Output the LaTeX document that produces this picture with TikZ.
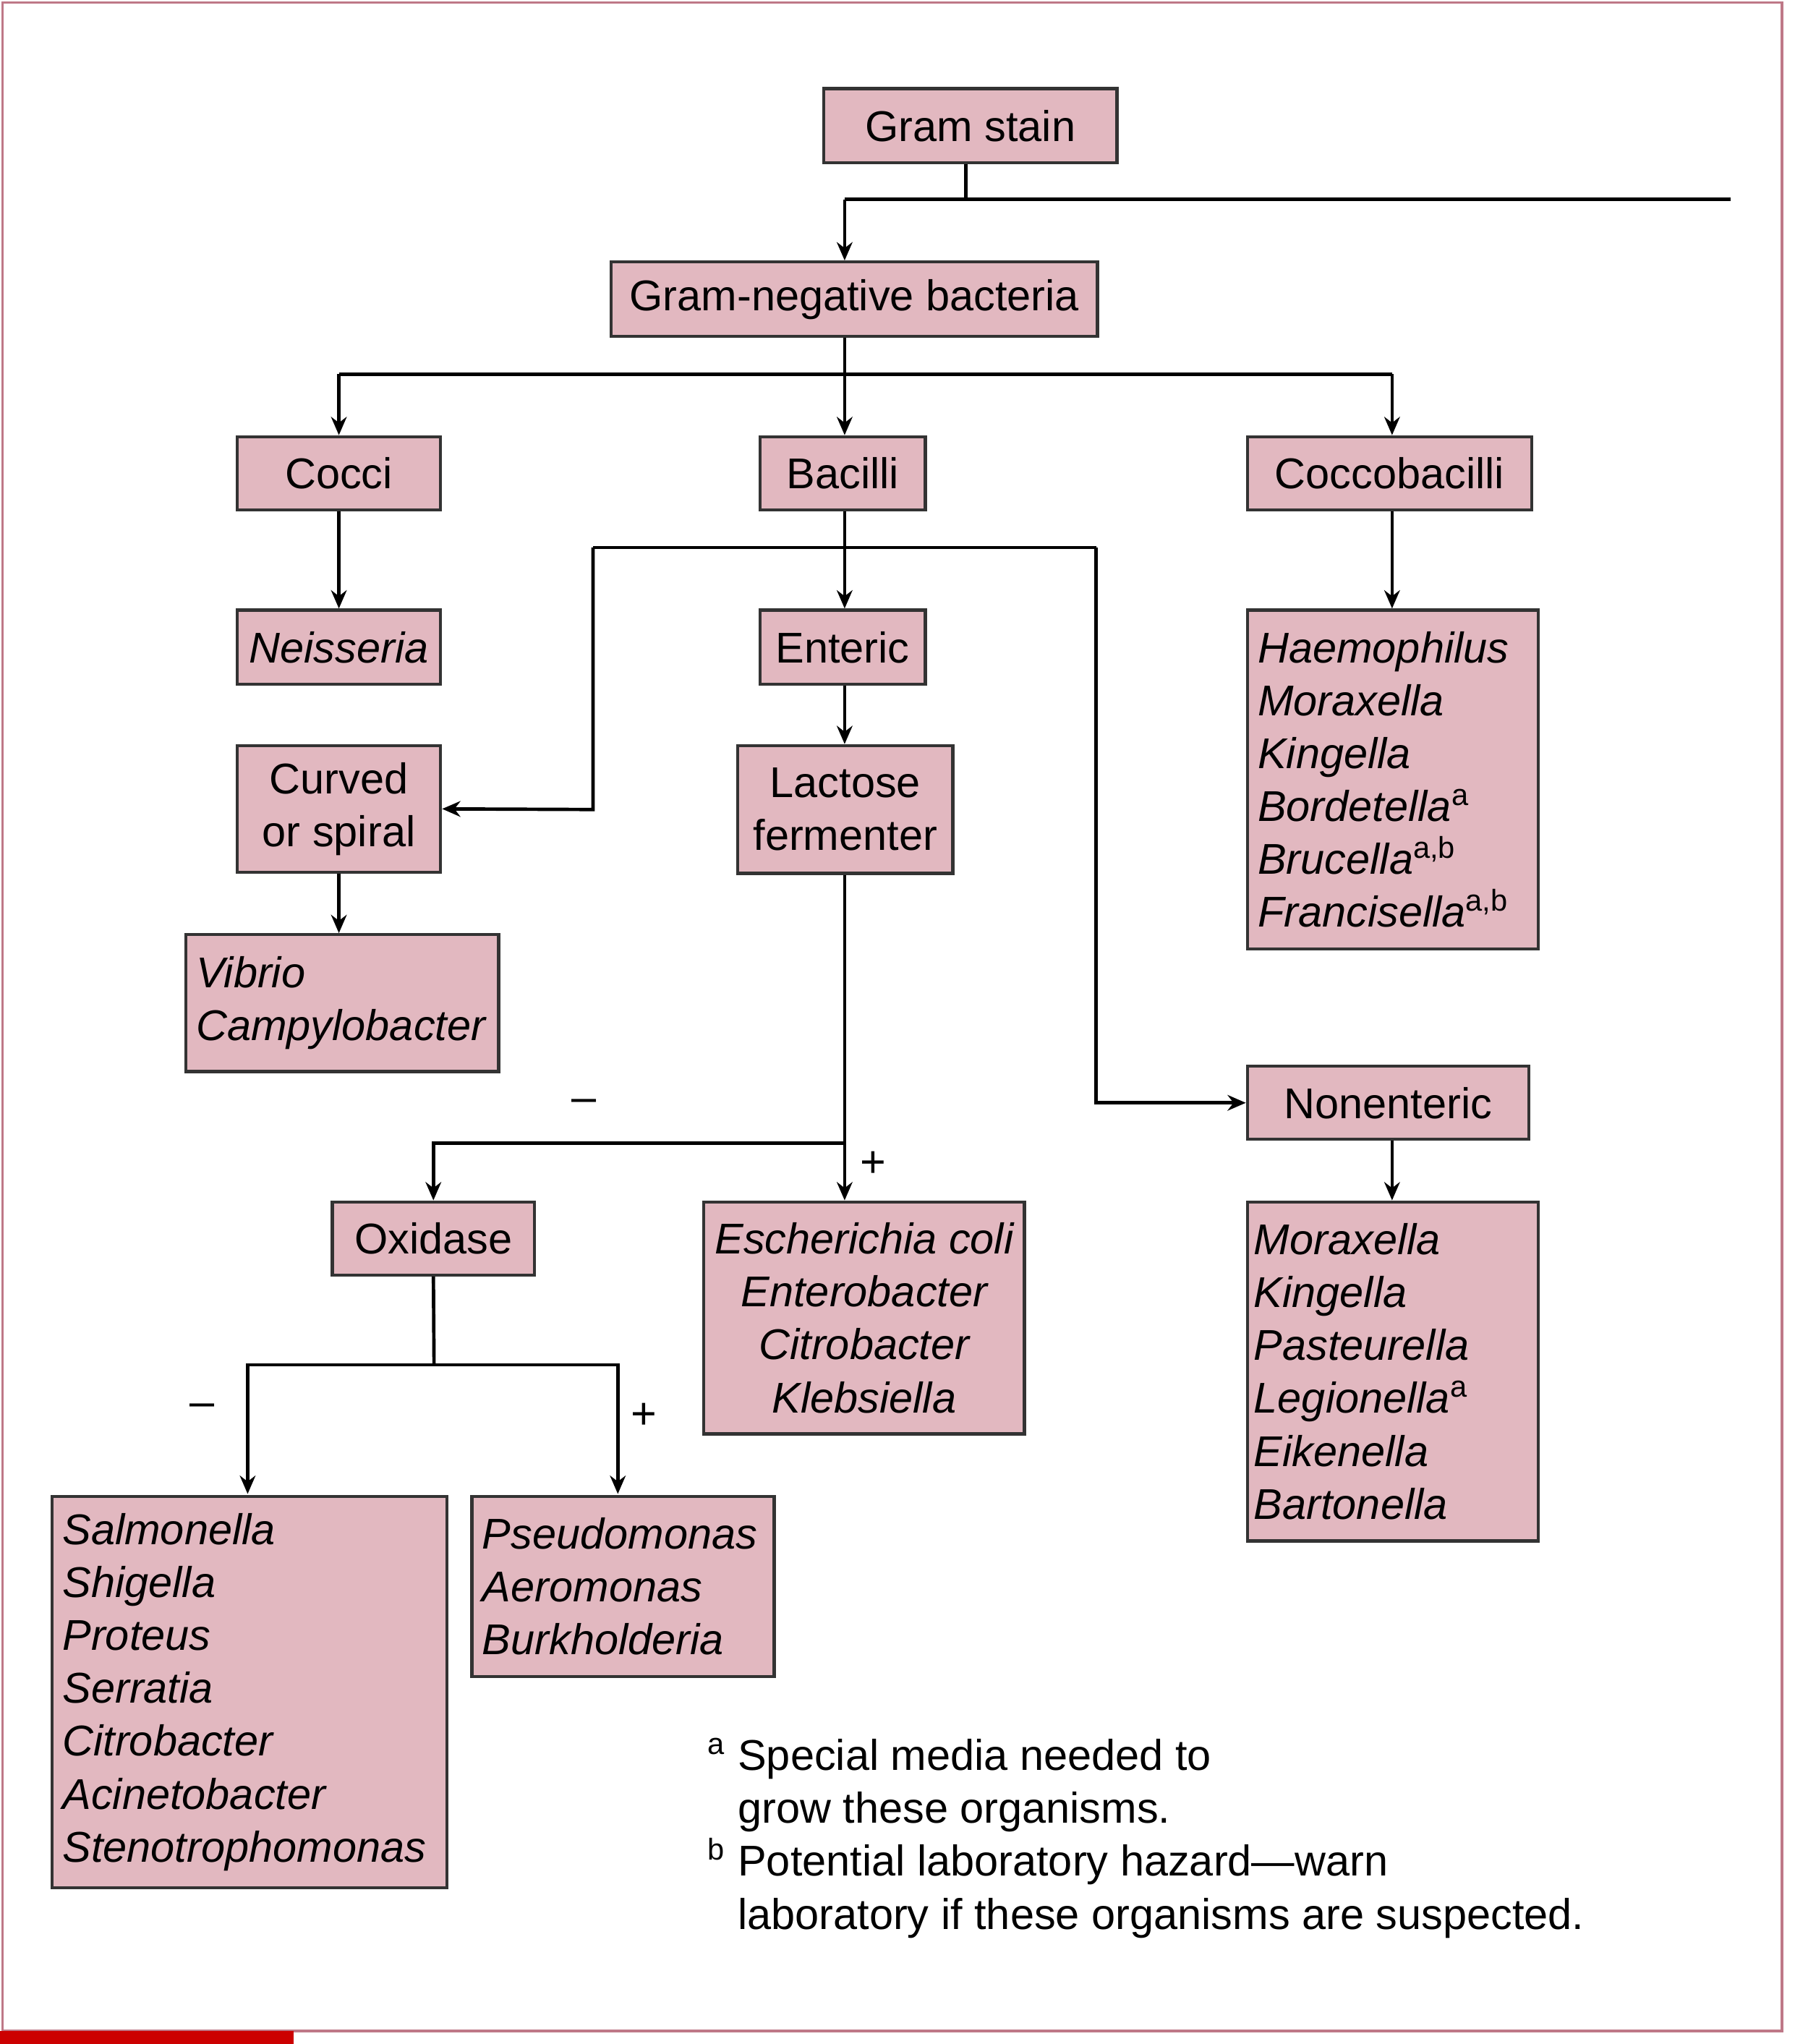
\documentclass[tikz,border=0pt]{standalone}
\usepackage{fontspec}
\setmainfont{Liberation Sans}
\usetikzlibrary{arrows.meta}
\definecolor{boxfill}{RGB}{226,184,192}
\definecolor{frame}{RGB}{190,120,135}
\newcommand{\sps}[1]{\textsuperscript{\upshape #1}}
\tikzset{
 box/.style={draw=black!80, line width=1.2pt, fill=boxfill, inner sep=0pt, font=\fontsize{16.5}{20.3}\selectfont, align=center},
 lbox/.style={box, align=left, inner xsep=7pt},
 conn/.style={line width=1.3pt, draw=black},
 arr/.style={conn, -{Stealth[length=7pt,width=6pt]}},
 sign/.style={font=\fontsize{17}{18}\selectfont}
}
\begin{document}
\begin{tikzpicture}[x=0.5pt,y=-0.5pt]
\useasboundingbox (0,0) rectangle (1377,1568);
\draw[frame, line width=1pt] (2,2) rectangle (1367,1558);
\fill[red!80!black] (0,1558) rectangle (225,1568);
\node[box, minimum width=112.5pt, minimum height=28.5pt] (gram) at (744.5,96.5) {Gram stain};
\node[box, minimum width=186.5pt, minimum height=28.5pt] (gneg) at (655.5,229.5) {Gram-negative bacteria};
\node[box, minimum width=78pt, minimum height=28pt] (cocci) at (260,363) {Cocci};
\node[box, minimum width=63.5pt, minimum height=28pt] (bac) at (646.5,363) {Bacilli};
\node[box, minimum width=109pt, minimum height=28pt] (cb) at (1066,363) {Coccobacilli};
\node[box, minimum width=78pt, minimum height=28.5pt] (neis) at (260,496.5) {\itshape Neisseria};
\node[box, minimum width=63.5pt, minimum height=28.5pt] (ent) at (646.5,496.5) {Enteric};
\node[box, minimum width=78pt, minimum height=48.5pt] (curv) at (260,620.5) {Curved\\or spiral};
\node[box, minimum width=82.5pt, minimum height=49pt] (lac) at (648.5,621) {Lactose\\fermenter};
\node[lbox, text width=112pt, minimum height=52.5pt, inner xsep=4pt] (vib) at (262.5,769.5) {\itshape Vibrio\\\itshape Campylobacter};
\node[lbox, text width=103.5pt, minimum height=130pt, inner xsep=4pt] (hae) at (1068.5,598) {\itshape Haemophilus\\\itshape Moraxella\\\itshape Kingella\\\itshape Bordetella\sps{a}\\\itshape Brucella\sps{a,b}\\\itshape Francisella\sps{a,b}};
\node[box, minimum width=108pt, minimum height=28pt] (non) at (1065,846) {Nonenteric};
\node[lbox, text width=106.5pt, minimum height=130pt, inner xsep=2.5pt] (mor) at (1068.5,1052) {\itshape Moraxella\\\itshape Kingella\\\itshape Pasteurella\\\itshape Legionella\sps{a}\\\itshape Eikenella\\\itshape Bartonella};
\node[box, minimum width=77.5pt, minimum height=28pt] (ox) at (332.5,950) {Oxidase};
\node[box, minimum width=123pt, minimum height=89pt] (eco) at (663,1011) {\itshape Escherichia coli\\\itshape Enterobacter\\\itshape Citrobacter\\\itshape Klebsiella};
\node[lbox, text width=143.5pt, minimum height=150pt, inner xsep=4pt] (sal) at (191.5,1298) {\itshape Salmonella\\\itshape Shigella\\\itshape Proteus\\\itshape Serratia\\\itshape Citrobacter\\\itshape Acinetobacter\\\itshape Stenotrophomonas};
\node[lbox, text width=108pt, minimum height=69pt, inner xsep=4pt] (pse) at (478,1217) {\itshape Pseudomonas\\\itshape Aeromonas\\\itshape Burkholderia};
% connectors
\coordinate (top) at (1328,153);
\draw[conn] (gram.south -| 741,0) -- (741,153);
\draw[conn] (648,153) -- (top);
\draw[arr] (648,153) -- (gneg.north -| 648,0);
\draw[conn] (gneg.south -| 648,0) -- (648,287);
\draw[conn] (260,287) -- (1068,287);
\draw[arr] (260,287) -- (cocci.north);
\draw[arr] (648,287) -- (bac.north -| 648,0);
\draw[arr] (1068,287) -- (cb.north -| 1068,0);
\draw[arr] (cocci) -- (neis);
\draw[arr] (bac.south -| 648,0) -- (ent.north -| 648,0);
\draw[arr] (ent.south -| 648,0) -- (lac.north -| 648,0);
\draw[arr] (curv.south) -- (vib.north -| curv.south);
\draw[arr] (cb.south -| 1068,0) -- (hae.north -| 1068,0);
\draw[arr] (455,420) -- (455,621) -- (curv.east);
\draw[conn] (455,420) -- (841,420);
\draw[arr] (841,420) |- (non.west);
\draw[arr] (non.south -| 1068,0) -- (mor.north -| 1068,0);
\draw[conn] (lac.south -| 648,0) -- (648,877);
\draw[arr] (648,877) -- (eco.north -| 648,0);
\draw[arr] (648,877) -| (ox.north);
\draw[conn] (ox.south) -- (333,1047);
\draw[arr] (333,1047) -| (190,1146);
\draw[arr] (333,1047) -| (474,1146);
\node[sign] (m1) at (448,848) {--};
\node[sign] (p1) at (670,893) {+};
\node[sign] (m2) at (155,1082) {--};
\node[sign] (p2) at (494,1086) {+};
\node[font=\fontsize{16.5}{20.3}\selectfont, align=left, anchor=north west] (fn) at (536,1326) {\textsuperscript{a} Special media needed to\\\phantom{\textsuperscript{a}} grow these organisms.\\\textsuperscript{b} Potential laboratory hazard—warn\\\phantom{\textsuperscript{b}} laboratory if these organisms are suspected.};
\end{tikzpicture}
\end{document}
